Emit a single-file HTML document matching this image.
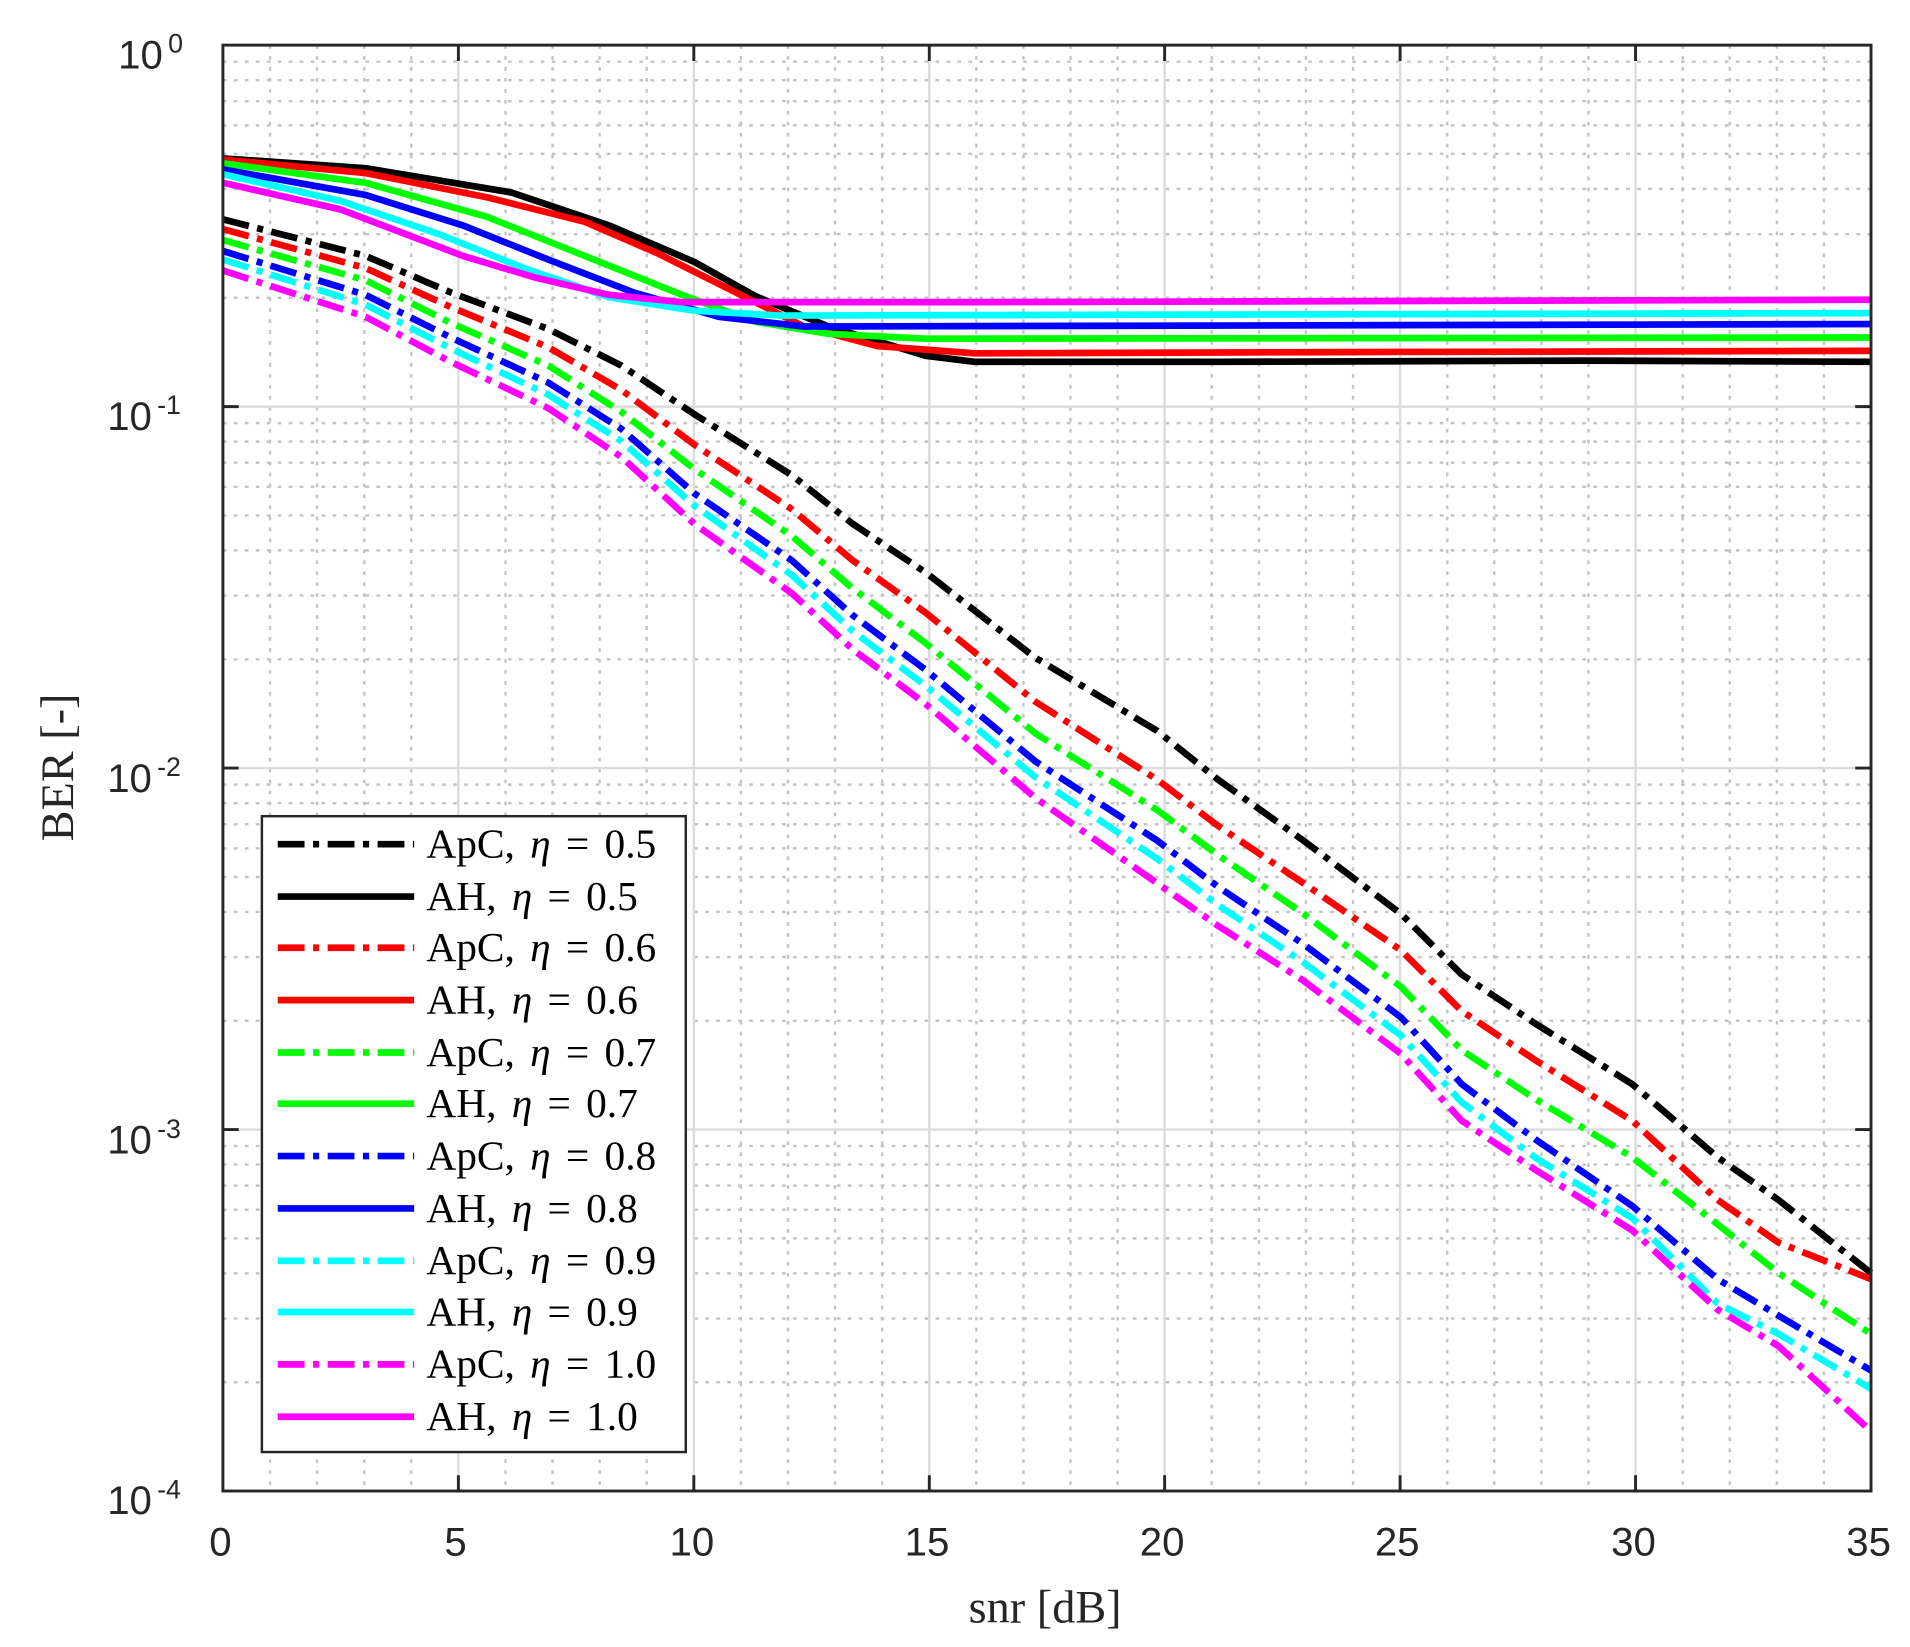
<!DOCTYPE html>
<html><head><meta charset="utf-8"><style>html,body{margin:0;padding:0;background:#fff}svg{display:block}</style></head><body>
<svg width="1910" height="1647" viewBox="0 0 1568 1352" xmlns="http://www.w3.org/2000/svg">
<rect width="1568" height="1352" fill="#fff"/>
<g stroke="#c4c4c4" stroke-width="2" stroke-dasharray="3 6" fill="none">
<path d="M221.7 37V1224M260.3 37V1224M299 37V1224M337.6 37V1224M415 37V1224M453.6 37V1224M492.3 37V1224M530.9 37V1224M608.2 37V1224M646.9 37V1224M685.5 37V1224M724.2 37V1224M801.5 37V1224M840.2 37V1224M878.8 37V1224M917.5 37V1224M994.8 37V1224M1033.5 37V1224M1072.1 37V1224M1110.8 37V1224M1188.1 37V1224M1226.7 37V1224M1265.4 37V1224M1304 37V1224M1381.4 37V1224M1420 37V1224M1458.7 37V1224M1497.3 37V1224"/>
<path d="M183 244.4H1536M183 192.2H1536M183 155H1536M183 126.3H1536M183 102.9H1536M183 83H1536M183 65.8H1536M183 50.6H1536M183 541.2H1536M183 488.9H1536M183 451.8H1536M183 423.1H1536M183 399.6H1536M183 379.8H1536M183 362.5H1536M183 347.3H1536M183 838H1536M183 785.7H1536M183 748.6H1536M183 719.9H1536M183 696.4H1536M183 676.6H1536M183 659.3H1536M183 644.1H1536M183 1134.7H1536M183 1082.4H1536M183 1045.3H1536M183 1016.6H1536M183 993.1H1536M183 973.3H1536M183 956H1536M183 940.8H1536"/>
</g>
<g stroke="#dcdcdc" stroke-width="2" fill="none">
<path d="M376.3 37V1224M569.6 37V1224M762.9 37V1224M956.1 37V1224M1149.4 37V1224M1342.7 37V1224M183 333.75H1536M183 630.5H1536M183 927.25H1536"/>
</g>
<g fill="none" stroke-width="5.5" stroke-linejoin="round">
<path stroke="#000" d="M183 130L300 138L420 158L500 185L570 215L620 243L680 268L760 292L800 297L1000 297L1300 296L1536 297"/>
<path stroke="#f00" d="M183 131L300 142L400 162L480 182L540 208L580 228L660 268L720 284L800 290L1100 289L1536 288"/>
<path stroke="#0f0" d="M183 134L300 150L400 178L480 210L560 242L620 264L680 274L760 278L1536 277"/>
<path stroke="#00f" d="M183 139L300 160L380 185L450 213L520 240L590 260L660 268L1536 266"/>
<path stroke="#0ff" d="M183 143L280 165L360 192L430 220L500 244L570 255L640 259L1536 257"/>
<path stroke="#f0f" d="M183 150L280 172L380 210L440 228L500 242L560 248L800 248L1536 246"/>
</g>
<g fill="none" stroke-width="5.5" stroke-dasharray="22 7 5 7">
<path stroke="#000" d="M183 180L300 210L370 240L450 270L510 300L570 340L650 390L700 430L760 470L850 540L950 600L1000 640L1070 690L1150 750L1200 800L1260 840L1340 890L1410 950L1460 985L1536 1045"/>
<path stroke="#f00" d="M183 188L300 220L370 252L450 285L510 320L570 365L650 418L700 460L760 503L850 576L950 640L1000 678L1070 725L1150 780L1200 830L1260 870L1340 920L1410 985L1460 1020L1536 1050"/>
<path stroke="#0f0" d="M183 197L300 230L370 265L450 300L510 338L570 385L650 440L700 483L760 528L850 602L950 665L1000 702L1070 750L1150 810L1200 862L1260 902L1340 950L1410 1005L1460 1045L1536 1095"/>
<path stroke="#00f" d="M183 206L300 242L370 277L450 314L510 352L570 405L650 460L700 505L760 550L850 625L950 690L1000 728L1070 775L1150 835L1200 890L1260 935L1340 990L1410 1050L1460 1080L1536 1125"/>
<path stroke="#0ff" d="M183 213L300 250L370 286L450 324L510 362L570 415L650 472L700 518L760 563L850 638L950 705L1000 743L1070 790L1150 850L1200 905L1260 950L1340 1000L1410 1070L1460 1095L1536 1140"/>
<path stroke="#f0f" d="M183 222L300 260L370 297L450 335L510 375L570 430L650 487L700 533L760 578L850 655L950 725L1000 760L1070 805L1150 865L1200 920L1260 960L1340 1010L1410 1075L1460 1105L1536 1175"/>
</g>
<rect x="183" y="37" width="1353" height="1187" fill="none" stroke="#262626" stroke-width="2.4"/>
<g stroke="#262626" stroke-width="2.4">
<path d="M376.3 1224v-13M569.6 1224v-13M762.9 1224v-13M956.1 1224v-13M1149.4 1224v-13M1342.7 1224v-13M376.3 37v13M569.6 37v13M762.9 37v13M956.1 37v13M1149.4 37v13M1342.7 37v13M183 333.75h13M183 630.5h13M183 927.25h13M1536 333.75h-13M1536 630.5h-13M1536 927.25h-13"/>
</g>
<g font-family="Liberation Sans, sans-serif" font-size="33" fill="#262626" text-anchor="middle">
<text x="181" y="1277">0</text><text x="374" y="1277">5</text><text x="568" y="1277">10</text><text x="761" y="1277">15</text><text x="954" y="1277">20</text><text x="1147" y="1277">25</text><text x="1341" y="1277">30</text><text x="1534" y="1277">35</text>
</g>
<g font-family="Liberation Sans, sans-serif" fill="#262626">
<text x="97" y="56" font-size="33">10</text><text x="138" y="43" font-size="22">0</text>
<text x="88" y="353" font-size="33">10</text><text x="129" y="340" font-size="22">-1</text>
<text x="88" y="650" font-size="33">10</text><text x="129" y="637" font-size="22">-2</text>
<text x="88" y="947" font-size="33">10</text><text x="129" y="934" font-size="22">-3</text>
<text x="88" y="1243" font-size="33">10</text><text x="129" y="1230" font-size="22">-4</text>
</g>
<g font-family="Liberation Serif, serif" fill="#262626" font-size="38">
<text x="858" y="1332" text-anchor="middle">snr [dB]</text>
<text transform="translate(60,630) rotate(-90)" text-anchor="middle">BER [-]</text>
</g>
<rect x="215" y="670" width="348" height="522" fill="#fff" stroke="#262626" stroke-width="2"/>
<g stroke-width="5.5" fill="none">
<path stroke="#000" stroke-dasharray="22 7 5 7" d="M228 693H340"/>
<path stroke="#000" d="M228 736H340"/>
<path stroke="#f00" stroke-dasharray="22 7 5 7" d="M228 778H340"/>
<path stroke="#f00" d="M228 821H340"/>
<path stroke="#0f0" stroke-dasharray="22 7 5 7" d="M228 864H340"/>
<path stroke="#0f0" d="M228 906H340"/>
<path stroke="#00f" stroke-dasharray="22 7 5 7" d="M228 949H340"/>
<path stroke="#00f" d="M228 992H340"/>
<path stroke="#0ff" stroke-dasharray="22 7 5 7" d="M228 1035H340"/>
<path stroke="#0ff" d="M228 1077H340"/>
<path stroke="#f0f" stroke-dasharray="22 7 5 7" d="M228 1120H340"/>
<path stroke="#f0f" d="M228 1163H340"/>
</g>
<g font-family="Liberation Serif, serif" font-size="34" fill="#000" word-spacing="4">
<text x="350" y="704">ApC, <tspan font-style="italic">η</tspan> = 0.5</text>
<text x="350" y="747">AH, <tspan font-style="italic">η</tspan> = 0.5</text>
<text x="350" y="789">ApC, <tspan font-style="italic">η</tspan> = 0.6</text>
<text x="350" y="832">AH, <tspan font-style="italic">η</tspan> = 0.6</text>
<text x="350" y="875">ApC, <tspan font-style="italic">η</tspan> = 0.7</text>
<text x="350" y="917">AH, <tspan font-style="italic">η</tspan> = 0.7</text>
<text x="350" y="960">ApC, <tspan font-style="italic">η</tspan> = 0.8</text>
<text x="350" y="1003">AH, <tspan font-style="italic">η</tspan> = 0.8</text>
<text x="350" y="1046">ApC, <tspan font-style="italic">η</tspan> = 0.9</text>
<text x="350" y="1088">AH, <tspan font-style="italic">η</tspan> = 0.9</text>
<text x="350" y="1131">ApC, <tspan font-style="italic">η</tspan> = 1.0</text>
<text x="350" y="1174">AH, <tspan font-style="italic">η</tspan> = 1.0</text>
</g>
</svg>
</body></html>
